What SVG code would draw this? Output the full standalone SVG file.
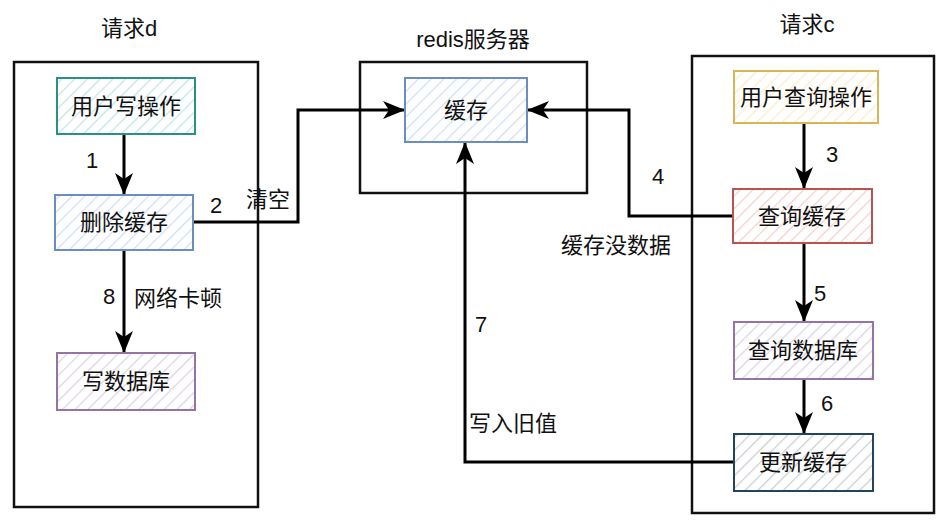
<svg xmlns="http://www.w3.org/2000/svg" width="945" height="525" viewBox="0 0 945 525">
<defs>
<style>
.t{font-family:"Liberation Sans","Noto Sans CJK SC",sans-serif;font-size:22px;fill:#111;}
.c{text-anchor:middle;}
.box{fill:none;stroke:#111;stroke-width:2.5;}
.n{stroke-width:2;}
.e{fill:none;stroke:#000;stroke-width:3;marker-end:url(#ah);}
</style>
<marker id="ah" markerUnits="userSpaceOnUse" markerWidth="24" markerHeight="24" viewBox="0 0 24 24" refX="22" refY="12" orient="auto">
<path d="M0,3 L22,12 L0,21 L6,12 z" fill="#000"/>
</marker>
<pattern id="hTeal" patternUnits="userSpaceOnUse" width="9" height="9" patternTransform="rotate(45)"><rect width="9" height="9" fill="#fff"/><line x1="0" y1="0" x2="0" y2="9" stroke="#bfe6e3" stroke-width="2.5"/></pattern>
<pattern id="hBlue" patternUnits="userSpaceOnUse" width="9" height="9" patternTransform="rotate(45)"><rect width="9" height="9" fill="#fff"/><line x1="0" y1="0" x2="0" y2="9" stroke="#cfdff5" stroke-width="2.5"/></pattern>
<pattern id="hPurple" patternUnits="userSpaceOnUse" width="9" height="9" patternTransform="rotate(45)"><rect width="9" height="9" fill="#fff"/><line x1="0" y1="0" x2="0" y2="9" stroke="#ddd2e5" stroke-width="2.5"/></pattern>
<pattern id="hYellow" patternUnits="userSpaceOnUse" width="9" height="9" patternTransform="rotate(45)"><rect width="9" height="9" fill="#fff"/><line x1="0" y1="0" x2="0" y2="9" stroke="#fbeccb" stroke-width="2.5"/></pattern>
<pattern id="hRed" patternUnits="userSpaceOnUse" width="9" height="9" patternTransform="rotate(45)"><rect width="9" height="9" fill="#fff"/><line x1="0" y1="0" x2="0" y2="9" stroke="#f5cfcd" stroke-width="2.5"/></pattern>
<pattern id="hGray" patternUnits="userSpaceOnUse" width="9" height="9" patternTransform="rotate(45)"><rect width="9" height="9" fill="#fff"/><line x1="0" y1="0" x2="0" y2="9" stroke="#c9ced3" stroke-width="2.5"/></pattern>
</defs>
<rect width="945" height="525" fill="#fff"/>

<g id="containers">
<g id="reqD"><rect class="box" x="14" y="62" width="244" height="445"/><text class="t c" x="129" y="36">请求d</text></g>
<g id="redis"><rect class="box" x="360" y="62" width="227" height="131"/><text class="t c" x="473" y="47">redis服务器</text></g>
<g id="reqC"><rect class="box" x="692" y="56" width="242" height="457"/><text class="t c" x="807" y="32">请求c</text></g>
</g>

<g id="connectors">
<path class="e" d="M124,134 L124,195"/>
<path class="e" d="M193,222 L298,222 L298,110 L405,110"/>
<path class="e" d="M124,250 L124,353"/>
<path class="e" d="M804,123 L804,189"/>
<path class="e" d="M733,216 L629,216 L629,110 L527,110"/>
<path class="e" d="M804,243 L804,322"/>
<path class="e" d="M804,379 L804,434"/>
<path class="e" d="M734,462 L465,462 L465,142"/>
</g>

<g id="edgeLabels">
<text class="t c" x="92" y="168">1</text>
<text class="t c" x="216" y="213">2</text>
<text class="t" x="246" y="207">清空</text>
<text class="t c" x="109" y="304">8</text>
<text class="t" x="134" y="306">网络卡顿</text>
<text class="t c" x="832" y="162">3</text>
<text class="t c" x="658" y="184">4</text>
<text class="t" x="561" y="253">缓存没数据</text>
<text class="t c" x="820" y="301">5</text>
<text class="t c" x="827" y="411">6</text>
<text class="t c" x="481" y="332">7</text>
<text class="t" x="469" y="431">写入旧值</text>
</g>

<g id="n-write-op"><rect class="n" x="57" y="78" width="138" height="56" fill="url(#hTeal)" stroke="#2a8f86"/><text class="t c" x="126" y="114">用户写操作</text></g>
<g id="n-delete-cache"><rect class="n" x="55" y="195" width="138" height="55" fill="url(#hBlue)" stroke="#6c8ebf"/><text class="t c" x="124" y="230">删除缓存</text></g>
<g id="n-write-db"><rect class="n" x="57" y="353" width="138" height="57" fill="url(#hPurple)" stroke="#9673a6"/><text class="t c" x="126" y="389">写数据库</text></g>
<g id="n-cache"><rect class="n" x="405" y="78" width="122" height="64" fill="url(#hBlue)" stroke="#6c8ebf"/><text class="t c" x="466" y="118">缓存</text></g>
<g id="n-query-op"><rect class="n" x="734" y="71" width="144" height="52" fill="url(#hYellow)" stroke="#d6b656"/><text class="t c" x="806" y="105">用户查询操作</text></g>
<g id="n-query-cache"><rect class="n" x="733" y="189" width="139" height="54" fill="url(#hRed)" stroke="#b85450"/><text class="t c" x="802" y="224">查询缓存</text></g>
<g id="n-query-db"><rect class="n" x="734" y="322" width="139" height="57" fill="url(#hPurple)" stroke="#9673a6"/><text class="t c" x="803" y="358">查询数据库</text></g>
<g id="n-update-cache"><rect class="n" x="734" y="434" width="139" height="57" fill="url(#hGray)" stroke="#23445d"/><text class="t c" x="803" y="470">更新缓存</text></g>
</svg>
